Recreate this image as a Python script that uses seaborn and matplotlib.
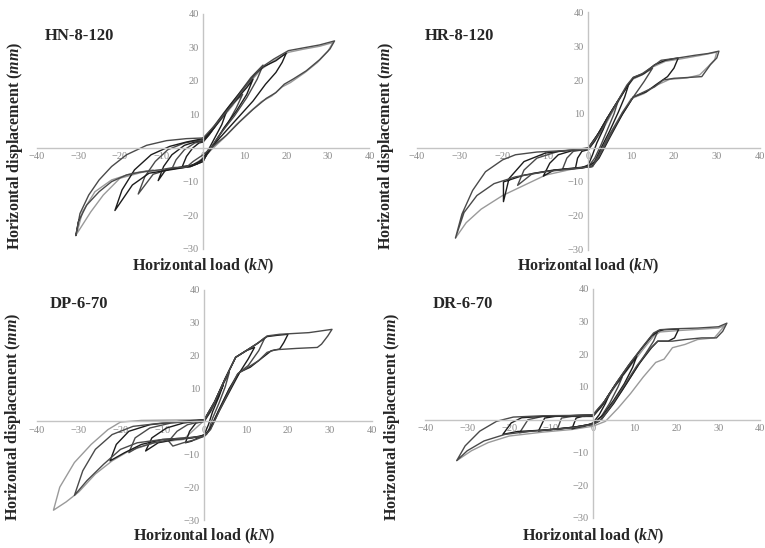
import pandas as pd
import seaborn as sns
import matplotlib.pyplot as plt

# ---- data: (load kN, displacement mm) ----
hn_c1 = [(0, 1.8), (1.5, 4), (3.5, 7.5), (5.5, 10.5), (4.5, 7), (3, 3.5), (1.5, 0), (0, -3), (-1.5, -4.8),
         (-3.5, -5.3), (-5, -5.5), (-4, -2.5), (-2.5, 0), (-1, 1.5), (0, 1.8)]
hn_c2 = [(0, 2), (2, 5), (4.5, 9), (7, 13), (9.5, 16), (8, 12), (6, 7.5), (3.5, 3), (1.5, -1), (0, -3.5),
         (-2.5, -5.2), (-5, -5.6), (-7.5, -6.2), (-6.5, -3.5), (-4.5, -0.5), (-2, 1.5), (0, 2)]
hn_c3 = [(0, 2), (2, 5), (5, 10), (8, 14.5), (10.5, 18), (12, 20.5), (10.5, 16), (8, 11), (5, 6), (2.5, 1),
         (0, -3.5), (-3, -5.3), (-7, -6), (-9, -6.5), (-10.8, -9.7), (-9.5, -5.5), (-7.5, -2), (-4.5, 0.8),
         (-1.5, 2), (0, 2.2)]
hn_c4 = [(0, 2.5), (2, 5.5), (5, 10.5), (8.5, 16), (11.5, 21), (14.4, 24.7), (13, 20.5), (10.5, 15),
         (7.5, 9.5), (4, 4), (1.5, -0.5), (0, -4), (-3, -5.5), (-8, -6.3), (-12, -7.8), (-15.6, -13.7),
         (-14, -8.5), (-11.5, -4), (-8.5, -0.5), (-4.5, 1.5), (0, 2.5)]
hn_c5 = [(0, 2.5), (2.5, 6), (6, 12), (9.5, 17.5), (12.5, 22), (14.5, 24.2), (17.5, 26), (20, 28.3),
         (19, 25.5), (17.5, 22.5), (15, 19), (12, 14), (8, 8.5), (4, 3), (1, -1.5), (0, -4), (-3, -5.5),
         (-8, -6.5), (-13, -7.5), (-17, -11), (-21.2, -18.6), (-19.5, -12.5), (-16.5, -6.5), (-12.5, -2),
         (-8, 0.5), (-4, 1.8), (0, 2.8)]
hn_c6 = [(0, 3), (3, 7), (7, 13), (10.5, 19), (14, 24), (17, 26.5), (20.5, 29), (24, 29.8), (28, 30.7),
         (31.6, 31.9), (30.5, 29.5), (28, 26.3), (24.8, 23), (21.6, 20.5), (19.5, 19), (17.5, 16.5),
         (15.2, 14.8), (12, 11.5), (8.8, 7.8), (5.6, 3.8), (2.4, 0.5), (0, -2), (-2.4, -4), (-4, -5.7),
         (-7.2, -5.8), (-10.4, -6.5), (-15.2, -7.2), (-18.4, -8), (-22, -10), (-25, -13), (-28, -17),
         (-30, -22), (-30.6, -26.1), (-29.6, -19.5), (-27.5, -14), (-25, -9.5), (-22, -5.5), (-18.4, -2),
         (-13.6, 0.8), (-8.8, 2.2), (-4, 2.8), (0, 3)]
hn_g6 = [(0, 2.8), (3, 6.5), (7, 12.5), (10.5, 18.5), (14, 23.5), (17, 26), (20.5, 28.5), (24, 29.4),
         (28, 30.3), (31.2, 31.4), (30, 28.8), (27.5, 25.5), (24.5, 22.5), (21, 19.5), (19, 18.2),
         (16.5, 15.5), (14, 13.8), (11, 10.5), (8, 7), (5, 3), (2, -0.5), (0, -3), (-3, -5.5), (-8, -6.3),
         (-14, -7), (-20, -9), (-24, -14), (-27, -19), (-30.4, -25.6), (-29, -19), (-26, -13), (-22, -9.5),
         (-17, -7.5), (-12, -6.5)]

hr_c1 = [(0, -0.5), (1.5, 2), (3, 5.5), (4.5, 9), (3.5, 5.5), (2, 1.5), (1, -2), (0, -5), (-1.5, -5.8),
         (-3, -6), (-2.5, -3), (-1.5, -1), (0, -0.5)]
hr_c2 = [(0, -0.5), (2, 3.5), (4.5, 9), (7, 14), (6, 10), (4.5, 5.5), (3, 1), (1.5, -3), (0, -5.5),
         (-3, -6), (-6, -6.2), (-5, -3), (-3.5, -1), (-1, -0.5), (0, -0.5)]
hr_c3 = [(0, -0.3), (2, 3.5), (5, 10), (8, 16), (9.5, 19), (8.5, 15), (7, 10.5), (5, 5), (3, 0),
         (1.5, -4), (0, -5.5), (-4, -6), (-8, -6.5), (-10.5, -8.3), (-9, -4.5), (-7, -2), (-3.5, -0.7),
         (0, -0.3)]
hr_c4 = [(0, 0), (2.5, 4.5), (5.5, 11), (8.5, 17), (10.5, 20.5), (12.5, 21.5), (15, 23.5), (13, 19.5),
         (10.5, 15), (8, 10), (5, 4), (2.5, -2), (1, -5.3), (-2, -6), (-8, -6.5), (-13, -7.5),
         (-16.5, -11), (-15, -6.5), (-12, -3), (-7, -1), (-2, -0.5), (0, 0)]
hr_c5 = [(0, 0), (2.5, 4.5), (6, 12), (9, 18), (10.5, 20.7), (13, 22), (15.5, 24.5), (18, 25.8),
         (21, 26.5), (20, 23.5), (18.5, 21), (16, 18.8), (13.5, 16.5), (10.5, 15), (8, 10), (5, 3),
         (2.5, -3), (0.8, -5.5), (-3, -6), (-9, -6.7), (-15, -8), (-19.8, -10), (-19.8, -15.8),
         (-18.5, -9), (-15, -4), (-10, -1.5), (-4, -0.6), (0, 0)]
hr_c6 = [(0, 0), (3, 5), (6.5, 13), (9, 18.5), (10.5, 20.8), (12.5, 21.8), (14.5, 23.5), (17, 25.8),
         (21, 26.5), (25, 27.3), (28, 27.8), (30.5, 28.5), (30, 26.5), (28.5, 24.5), (26.5, 21),
         (24, 20.8), (20, 20.5), (17.5, 20), (15.5, 18), (13, 16.5), (10.5, 15), (8, 10.5), (5, 3.5),
         (2.5, -2.5), (1, -5.5), (-3, -6), (-10, -7), (-17, -8.5), (-22, -10.5), (-26, -14), (-29, -19),
         (-31, -26.5), (-29.5, -19.5), (-27, -12.5), (-24, -7), (-20, -3.5), (-17, -2), (-12, -1.2),
         (-6, -0.8), (0, -0.3)]
hr_g6 = [(0, -0.3), (3, 4.5), (6.5, 12.5), (9, 18), (10.5, 20.3), (13, 21.8), (15, 23.8), (18, 25.5),
         (22, 26.3), (26, 27.2), (30, 28.2), (29.5, 26), (28, 24), (26, 21.5), (23, 20.6), (19, 20.2),
         (16, 18.5), (13, 16), (10, 14.5), (7.5, 9.5), (4.5, 3), (2, -3), (0.5, -5.5), (-4, -6.3),
         (-10, -8), (-15, -11), (-20, -14), (-25, -18), (-28.5, -22), (-31, -26.5)]

dp_c1 = [(0, 0), (1.5, 3), (3, 7), (4.5, 11), (3.5, 7.5), (2, 3), (1, -1), (0, -4), (-1.5, -5), (-3, -6),
         (-4.5, -6.5), (-3.5, -3), (-2, -0.5), (0, 0)]
dp_c2 = [(0, 0.2), (2, 4.5), (4, 10), (6, 15), (5, 10.5), (3.5, 5.5), (2, 1), (1, -3), (0, -4.5),
         (-2, -5.5), (-5, -6.5), (-7.5, -7.5), (-8.5, -6), (-6.5, -3), (-4, -1), (0, 0.2)]
dp_c3 = [(0, 0.3), (2.5, 6), (5, 13), (7.5, 19.5), (10, 21.5), (12, 22.5), (10.5, 19), (8.5, 15), (6, 9),
         (3.5, 3), (2, -1), (0.5, -4), (-3, -5), (-7, -5.5), (-11, -6.5), (-14, -9), (-12.5, -5), (-9, -2),
         (-5, -0.5), (0, 0.3)]
dp_c4 = [(0, 0.5), (2.5, 6), (5, 13), (7.5, 19.5), (10, 21.5), (12.5, 23.5), (14.5, 25.5), (13, 21.5),
         (10.5, 17), (8, 14.5), (6, 10), (3.5, 3.5), (1.5, -2), (0, -4.5), (-4, -5.2), (-8, -5.5),
         (-12, -6.5), (-16, -8), (-18, -9.5), (-16.5, -5), (-13, -2), (-8, -0.5), (-3, 0), (0, 0.5)]
dp_c5 = [(0, 0.5), (2.5, 6), (5, 13), (7.5, 19.5), (10, 21.5), (13, 24), (15, 25.8), (17.5, 26.2),
         (20, 26.5), (19, 24), (18, 22), (16, 21.5), (14, 19.5), (11, 16.5), (8.5, 15), (6, 10),
         (3.5, 3.5), (1.5, -2), (0, -4.5), (-4, -5), (-10, -5.5), (-15, -7), (-19, -9.5), (-22.5, -12),
         (-21, -7), (-18, -3), (-13, -1), (-6, 0), (0, 0.5)]
dp_c6 = [(0, 0.5), (2.5, 6), (5, 13), (7.5, 19.5), (10, 21.5), (13, 24), (15, 26), (18, 26.5), (25, 27),
         (30.5, 28), (29.5, 26), (28, 23.5), (27, 22.5), (22, 22.2), (17, 21.8), (15, 21), (13, 18.5),
         (10.5, 16.5), (8, 14.5), (6, 9.5), (3.5, 3), (1.5, -2.5), (0, -4.5), (-4, -5), (-10, -5.5),
         (-16, -6.5), (-20, -8.5), (-24, -13), (-28, -18), (-31, -22.5), (-29, -15), (-26, -8.5),
         (-22, -4), (-17, -1.5), (-10, -0.5), (-3, 0), (0, 0.5)]
dp_g7 = [(0, 0.3), (-5, -5.5), (-12, -6.5), (-18, -9), (-22, -12), (-26, -16), (-30, -21.5), (-33, -24.5),
         (-36, -27), (-34.5, -20), (-31, -12.5), (-27, -7), (-23, -2.5), (-20, -0.2), (-15, 0.3),
         (-8, 0.4), (0, 0.5)]

dr_c1 = [(0, 1), (2, 4), (4, 8), (3, 5), (1.5, 1.5), (0, -1), (-2, -2), (-4, -2.5), (-5, -2.8), (-4, 0.5),
         (-2.5, 1), (0, 1)]
dr_c2 = [(0, 1), (2, 4), (4.5, 9), (7, 13), (6, 10), (4, 5), (2, 1), (0, -1.2), (-3, -2), (-6, -2.5),
         (-8.5, -3), (-7.5, 0.5), (-5, 1), (-2, 1), (0, 1.2)]
dr_c3 = [(0, 1.2), (2.5, 5), (5, 10), (8, 15), (10.5, 19.5), (9.5, 16), (7.5, 11), (5, 6), (2.5, 1.5),
         (0, -1.3), (-4, -2.2), (-8, -2.8), (-12, -3.3), (-13, -3.5), (-11.5, 0.5), (-9, 1), (-4, 1.2),
         (0, 1.3)]
dr_c4 = [(0, 1.3), (2.5, 5), (5.5, 11), (8.5, 16.5), (11.5, 21.5), (14, 25.5), (15.5, 27), (14.5, 24),
         (12.5, 20), (10, 15), (7, 9), (4, 3.5), (1.5, -0.5), (0, -1.3), (-4, -2.2), (-10, -3),
         (-15, -3.5), (-17.5, -4), (-15.5, 0), (-12, 1), (-6, 1.2), (0, 1.4)]
dr_c5 = [(0, 1.4), (2.5, 5), (5.5, 11), (8.5, 16.5), (11.5, 21.5), (14, 25.5), (15.5, 27), (17, 27.5),
         (20.5, 27.7), (19.5, 25), (18, 24), (15.5, 24), (14, 22), (11, 17), (8, 11), (5, 5), (2, 0),
         (0, -1.4), (-5, -2.4), (-12, -3.2), (-18, -3.6), (-21.5, -4.5), (-19.5, -1), (-17, 0.6),
         (-12, 1), (-6, 1.2), (0, 1.5)]
dr_c6 = [(0, 1.5), (3, 6), (6, 12), (9, 17.5), (12, 22.5), (14.5, 26.5), (16, 27.5), (20, 27.8), (25, 28),
         (30, 28.4), (32, 29.5), (31, 27), (29.5, 25), (26, 25), (22, 24.5), (19, 24), (15.5, 24),
         (13.5, 21.5), (10.5, 16.5), (7.5, 10.5), (4.5, 4.5), (2, 0), (0, -1.5), (-5, -2.5), (-10, -3),
         (-16, -3.7), (-21, -4.5), (-26, -6.5), (-30, -9.5), (-32.5, -12.5), (-30.5, -8), (-27, -3.5),
         (-23, -0.5), (-19, 0.8), (-12, 1.2), (-5, 1.3), (0, 1.5)]
dr_g6 = [(0, 1.2), (3, 5.5), (6, 11.5), (9, 16.5), (12, 21.5), (14.5, 25.5), (16, 26.8), (20, 27.2),
         (25, 27.6), (30, 28), (31.5, 28.8), (30, 26.5), (29, 25), (25, 24.5), (22, 23), (19, 22),
         (17, 18.5), (15, 17.5), (12, 13), (9, 8), (6, 3.5), (3, -0.5), (0, -2), (-5, -3), (-12, -3.8),
         (-20, -5), (-25, -7), (-29, -9.5), (-32.5, -12.5)]

panels = [
    ("HN-8-120", [hn_c1, hn_c2, hn_c3, hn_c4, hn_c5, hn_c6], [hn_g6]),
    ("HR-8-120", [hr_c1, hr_c2, hr_c3, hr_c4, hr_c5, hr_c6], [hr_g6]),
    ("DP-6-70", [dp_c1, dp_c2, dp_c3, dp_c4, dp_c5, dp_c6], [dp_g7]),
    ("DR-6-70", [dr_c1, dr_c2, dr_c3, dr_c4, dr_c5, dr_c6], [dr_g6]),
]
x_ticks = [-40, -30, -20, -10, 0, 10, 20, 30, 40]
y_ticks = [-30, -20, -10, 10, 20, 30, 40]

sns.set_style("white")
plt.rcParams["font.family"] = ["Liberation Serif", "DejaVu Serif"]
plt.rcParams["mathtext.fontset"] = "custom"
plt.rcParams["mathtext.it"] = "Liberation Serif:italic:bold"
plt.rcParams["mathtext.rm"] = "Liberation Serif:bold"

fig = plt.figure(figsize=(7.65, 5.48), dpi=100)

# axes boxes in figure fractions, from the pixel positions of -40/40 and 40/-30
boxes = [(0.048, 0.546, 0.435, 0.429), (0.545, 0.544, 0.448, 0.434),
         (0.048, 0.051, 0.438, 0.420), (0.556, 0.055, 0.438, 0.418)]
title_pos = [(45, 36), (425, 36), (50, 304), (433, 304)]
ylab_pos = [(15, 146), (386, 146), (13, 417), (392, 417)]
xlab_y = [266, 266, 536, 536]

for i, (name, black_loops, gray_loops) in enumerate(panels):
    ax = fig.add_axes(boxes[i])
    for loop in gray_loops:
        df = pd.DataFrame(loop, columns=["load", "disp"])
        sns.lineplot(data=df, x="load", y="disp", sort=False, estimator=None,
                     color="#9a9a9a", lw=1.0, ax=ax)
    for k, loop in enumerate(black_loops):
        df = pd.DataFrame(loop, columns=["load", "disp"])
        sns.lineplot(data=df, x="load", y="disp", sort=False, estimator=None,
                     color="#1c1c1c" if k % 2 == 0 else "#4a4a4a", lw=1.0, ax=ax)
    ax.set_xlim(-40, 40)
    ax.set_ylim(-30, 40)
    ax.set_xticks(x_ticks)
    ax.set_yticks(y_ticks)
    ax.spines["left"].set_position(("data", 0))
    ax.spines["bottom"].set_position(("data", 0))
    for s in ["top", "right"]:
        ax.spines[s].set_visible(False)
    for s in ["left", "bottom"]:
        ax.spines[s].set_color("#c4c4c4")
        ax.spines[s].set_linewidth(1.0)
    ax.tick_params(length=0, labelsize=7.5, labelcolor="#8a8a8a", pad=3)
    ax.set_xlabel("")
    ax.set_ylabel("")
    ax.patch.set_alpha(0)

    # x axis origin in pixels for centring the load label
    x0 = (boxes[i][0] + boxes[i][2] / 2) * 765
    fig.text(title_pos[i][0] / 765, 1 - title_pos[i][1] / 548, name, fontsize=12,
             fontweight="bold", ha="left", va="center")
    fig.text(ylab_pos[i][0] / 765, 1 - ylab_pos[i][1] / 548,
             r"Horizontal displacement ($mm$)", fontsize=11.5, fontweight="bold",
             rotation=90, ha="center", va="center")
    fig.text(x0 / 765, 1 - xlab_y[i] / 548, r"Horizontal load ($kN$)", fontsize=11.5,
             fontweight="bold", ha="center", va="center")

fig.savefig("out.png", dpi=100)
